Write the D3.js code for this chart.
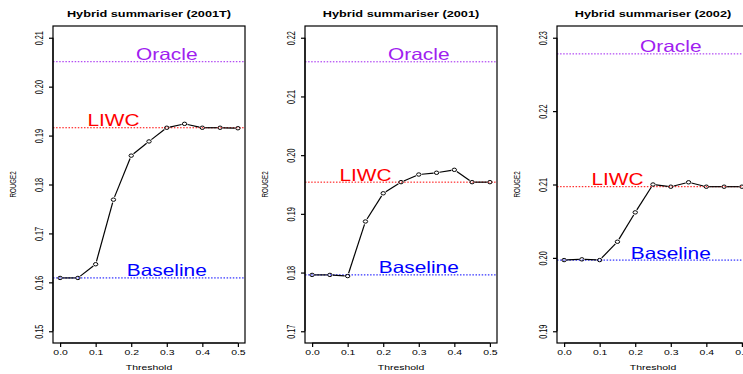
<!DOCTYPE html>
<html>
<head>
<meta charset="utf-8">
<script src="https://cdn.jsdelivr.net/npm/d3@7"></script>
<style>
  body { margin: 0; background: #fff; }
  text { font-family: "Liberation Sans", Arial, Helvetica, sans-serif; }
</style>
</head>
<body>
<div id="chart"></div>
<script>
// data
const thresholds = [0, 0.05, 0.1, 0.15, 0.2, 0.25, 0.3, 0.35, 0.4, 0.45, 0.5];
const panelTitles = ["Hybrid summariser (2001T)", "Hybrid summariser (2001)", "Hybrid summariser (2002)"];
const rouge2001T = [0.1609, 0.1609, 0.1637, 0.1769, 0.1859, 0.1888, 0.1916, 0.1924, 0.1916, 0.1916, 0.1915];
const rouge2001 = [0.1796, 0.1796, 0.1794, 0.1887, 0.1935, 0.1954, 0.1967, 0.1970, 0.1975, 0.1954, 0.1954];
const rouge2002 = [0.1997, 0.1998, 0.1997, 0.2022, 0.2062, 0.2100, 0.2097, 0.2103, 0.2097, 0.2097, 0.2097];
const oracleScores = [0.2051, 0.2159, 0.2278];
const liwcScores = [0.1916, 0.1954, 0.2097];
const baselineScores = [0.1609, 0.1796, 0.1997];
const yLimits = [[0.15, 0.21], [0.17, 0.22], [0.19, 0.23]];
const yTicks = [
  [0.15, 0.16, 0.17, 0.18, 0.19, 0.20, 0.21],
  [0.17, 0.18, 0.19, 0.20, 0.21, 0.22],
  [0.19, 0.20, 0.21, 0.22, 0.23]
];
const xTicks = [0, 0.1, 0.2, 0.3, 0.4, 0.5];
const seriesValues = [rouge2001T, rouge2001, rouge2002];

const width = 743;
const height = 374;
const panelWidth = 252;
const plot = { left: 53, right: 245, top: 26, bottom: 343 };
const gap = 3; // type="b" gap around points

// R-ish horizontal stretch of the original picture
const tickSize = 7.3, tickSx = 1.43;
const bigSize = 16.3, bigSx = 1.28;

function stretchedText(sel, x, y, str, size, sx, rotate) {
  return sel.append("text")
    .attr("transform", `translate(${x},${y}) scale(${sx},1)` + (rotate ? " rotate(-90)" : ""))
    .attr("text-anchor", "middle")
    .attr("font-size", size)
    .text(str);
}

const svg = d3.select("#chart").append("svg")
  .attr("width", width)
  .attr("height", height)
  .attr("viewBox", `0 0 ${width} ${height}`);

svg.append("rect").attr("width", width).attr("height", height).attr("fill", "#fff");

const refLines = [
  { name: "Oracle", color: "#a020f0", scores: oracleScores, at: 0.3 },
  { name: "LIWC", color: "#ff0000", scores: liwcScores, at: 0.15 },
  { name: "Baseline", color: "#0000ff", scores: baselineScores, at: 0.3 }
];

panelTitles.forEach((title, i) => {
  const g = svg.append("g").attr("transform", `translate(${i * panelWidth},0)`);

  // R pads the limits by 4%
  const xPad = 0.04 * 0.5;
  const x = d3.scaleLinear().domain([-xPad, 0.5 + xPad]).range([plot.left, plot.right]);
  const [lo, hi] = yLimits[i];
  const yPad = 0.04 * (hi - lo);
  const y = d3.scaleLinear().domain([lo - yPad, hi + yPad]).range([plot.bottom, plot.top]);

  // reference lines
  refLines.forEach((r) => {
    g.append("line")
      .attr("x1", plot.left).attr("x2", plot.right)
      .attr("y1", y(r.scores[i])).attr("y2", y(r.scores[i]))
      .attr("stroke", r.color)
      .attr("stroke-width", 1)
      .attr("stroke-dasharray", "1.5,1.6");
    stretchedText(g, x(r.at), y(r.scores[i]) - 1.5, r.name, bigSize, bigSx, false)
      .attr("fill", r.color);
  });

  // series line with gaps at the points
  const vals = seriesValues[i];
  const pts = thresholds.map((t, k) => [x(t), y(vals[k])]);
  for (let k = 0; k < pts.length - 1; k++) {
    const [x1, y1] = pts[k];
    const [x2, y2] = pts[k + 1];
    const d = Math.hypot(x2 - x1, y2 - y1);
    if (d <= 2 * gap) continue;
    const ux = (x2 - x1) / d, uy = (y2 - y1) / d;
    g.append("line")
      .attr("x1", x1 + ux * gap).attr("y1", y1 + uy * gap)
      .attr("x2", x2 - ux * gap).attr("y2", y2 - uy * gap)
      .attr("stroke", "#000")
      .attr("stroke-width", 1.2);
  }
  g.selectAll("ellipse.pt")
    .data(pts)
    .enter()
    .append("ellipse")
    .attr("class", "pt")
    .attr("cx", (d) => d[0])
    .attr("cy", (d) => d[1])
    .attr("rx", 2.2)
    .attr("ry", 1.7)
    .attr("fill", "none")
    .attr("stroke", "#000")
    .attr("stroke-width", 1);

  // box
  g.append("rect")
    .attr("x", plot.left).attr("y", plot.top)
    .attr("width", plot.right - plot.left)
    .attr("height", plot.bottom - plot.top)
    .attr("fill", "none")
    .attr("stroke", "#000")
    .attr("stroke-width", 1.2);

  // axes
  const xAxis = g.append("g")
    .attr("transform", `translate(0,${plot.bottom})`)
    .call(d3.axisBottom(x).tickValues(xTicks).tickFormat(d3.format(".1f")).tickSize(4).tickSizeOuter(0));
  xAxis.select(".domain")
    .attr("d", `M${x(xTicks[0])},0H${x(xTicks[xTicks.length - 1])}`)
    .attr("stroke-width", 1.2);
  xAxis.selectAll(".tick line").attr("stroke-width", 1.2);
  xAxis.selectAll(".tick text")
    .attr("x", null).attr("y", null).attr("dy", null)
    .attr("transform", `translate(0,11.5) scale(${tickSx},1)`)
    .attr("font-size", tickSize)
    .attr("font-family", null)
    .attr("fill", "#000");

  const yAxis = g.append("g")
    .attr("transform", `translate(${plot.left},0)`)
    .call(d3.axisLeft(y).tickValues(yTicks[i]).tickFormat(d3.format(".2f")).tickSize(4).tickSizeOuter(0));
  yAxis.select(".domain")
    .attr("d", `M0,${y(yTicks[i][0])}V${y(yTicks[i][yTicks[i].length - 1])}`)
    .attr("stroke-width", 1.2);
  yAxis.selectAll(".tick line").attr("stroke-width", 1.2);
  yAxis.selectAll(".tick text")
    .attr("x", null).attr("y", null).attr("dy", null)
    .attr("text-anchor", "middle")
    .attr("transform", `translate(-10.3,0) scale(${tickSx},1) rotate(-90)`)
    .attr("font-size", tickSize)
    .attr("font-family", null)
    .attr("fill", "#000");
  g.selectAll(".tick text").style("font-family", "'Liberation Sans', Arial, sans-serif");

  // titles and axis labels
  const cx = (plot.left + plot.right) / 2;
  stretchedText(g, cx, 17, title, 9.8, 1.3, false).attr("font-weight", "bold");
  stretchedText(g, cx, 369.5, "Threshold", tickSize, tickSx, false);
  stretchedText(g, 15.5, (plot.top + plot.bottom) / 2, "ROUGE2", 6.2, tickSx, true);
});
</script>
</body>
</html>
